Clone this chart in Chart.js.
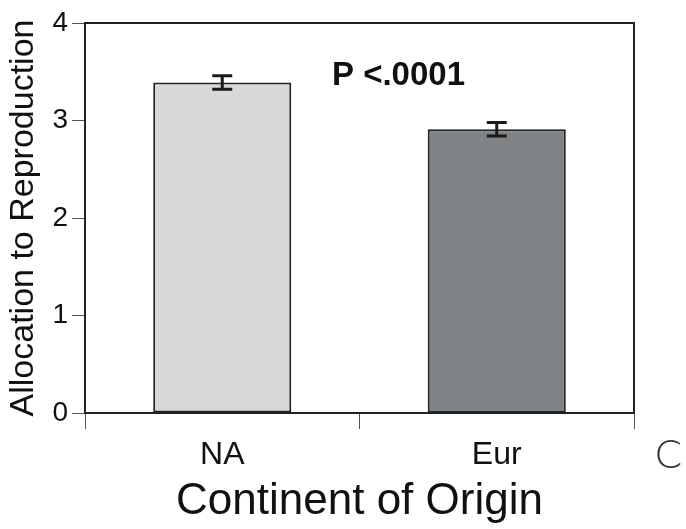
<!DOCTYPE html>
<html>
<head>
<meta charset="utf-8">
<script src="https://cdn.jsdelivr.net/npm/chart.js@4/dist/chart.umd.min.js"></script>
<style>
  html, body { margin: 0; padding: 0; background: #fff; }
  #wrap { position: relative; width: 686px; height: 529px; }
</style>
</head>
<body>
<div id="wrap"><canvas id="chart" width="686" height="529"></canvas></div>
<script>
const categories = ['NA', 'Eur'];
const allocation = [3.39, 2.91];
const stdErr = [0.07, 0.07];
const barColors = ['#d8d8da', '#808385'];
const yTicks = [0, 1, 2, 3, 4];

const FONT = "'Liberation Sans', Arial, Helvetica, sans-serif";

// error bars + frame + annotation
const extras = {
  id: 'extras',
  afterDatasetsDraw(chart) {
    const ctx = chart.ctx;
    const y = chart.scales.y;
    const meta = chart.getDatasetMeta(0);
    ctx.save();
    ctx.strokeStyle = '#1a1a1a';
    ctx.lineWidth = 3;
    meta.data.forEach((bar, i) => {
      const top = y.getPixelForValue(allocation[i] + stdErr[i]);
      const bot = y.getPixelForValue(allocation[i] - stdErr[i]);
      ctx.beginPath();
      ctx.moveTo(bar.x, top); ctx.lineTo(bar.x, bot);
      ctx.moveTo(bar.x - 10, top); ctx.lineTo(bar.x + 10, top);
      ctx.moveTo(bar.x - 10, bot); ctx.lineTo(bar.x + 10, bot);
      ctx.stroke();
    });
    ctx.restore();
  },
  afterDraw(chart) {
    const ctx = chart.ctx;
    const a = chart.chartArea;
    ctx.save();
    ctx.strokeStyle = '#222';
    ctx.lineWidth = 2;
    ctx.beginPath();
    ctx.moveTo(a.left, a.top); ctx.lineTo(a.right, a.top); ctx.lineTo(a.right, a.bottom);
    ctx.stroke();

    ctx.fillStyle = '#111';
    ctx.font = 'bold 33px ' + FONT;
    ctx.textBaseline = 'middle';
    ctx.textAlign = 'left';
    ctx.fillText('P <.0001', 332, 76);

    // cut-off panel letter at the right edge
    ctx.fillStyle = '#333';
    ctx.font = "300 40px Lato, Roboto, sans-serif";
    ctx.fillText('C', 655, 455);
    ctx.restore();
  }
};

new Chart(document.getElementById('chart'), {
  type: 'bar',
  data: {
    labels: categories,
    datasets: [{
      data: allocation,
      backgroundColor: barColors,
      borderColor: '#222',
      borderWidth: 2,
      borderSkipped: false,
      categoryPercentage: 1,
      barPercentage: 0.503
    }]
  },
  options: {
    responsive: false,
    animation: false,
    layout: { padding: { top: 23, right: 52, left: 0, bottom: 0 } },
    plugins: { legend: { display: false }, tooltip: { enabled: false } },
    scales: {
      x: {
        afterFit(s) { s.height = 116; },
        border: { color: '#222', width: 2 },
        grid: { drawOnChartArea: false, tickLength: 16, color: '#555', lineWidth: 1, offset: true },
        ticks: { color: '#111', font: { family: FONT, size: 32 }, padding: 7 },
        title: { display: true, text: 'Continent of Origin', color: '#111',
                 font: { family: FONT, size: 44 }, padding: { top: 0, bottom: 1 } }
      },
      y: {
        min: 0, max: 4,
        afterFit(s) { s.width = 85; },
        afterBuildTicks(s) { s.ticks = yTicks.map(v => ({ value: v })); },
        border: { color: '#222', width: 2 },
        grid: { drawOnChartArea: false, tickLength: 13, color: '#555', lineWidth: 1 },
        ticks: { color: '#111', font: { family: FONT, size: 28 }, padding: 4 },
        title: { display: true, text: 'Allocation to Reproduction', color: '#111',
                 font: { family: FONT, size: 34 }, padding: { top: 3, bottom: 0 } }
      }
    }
  },
  plugins: [extras]
});
</script>
</body>
</html>
